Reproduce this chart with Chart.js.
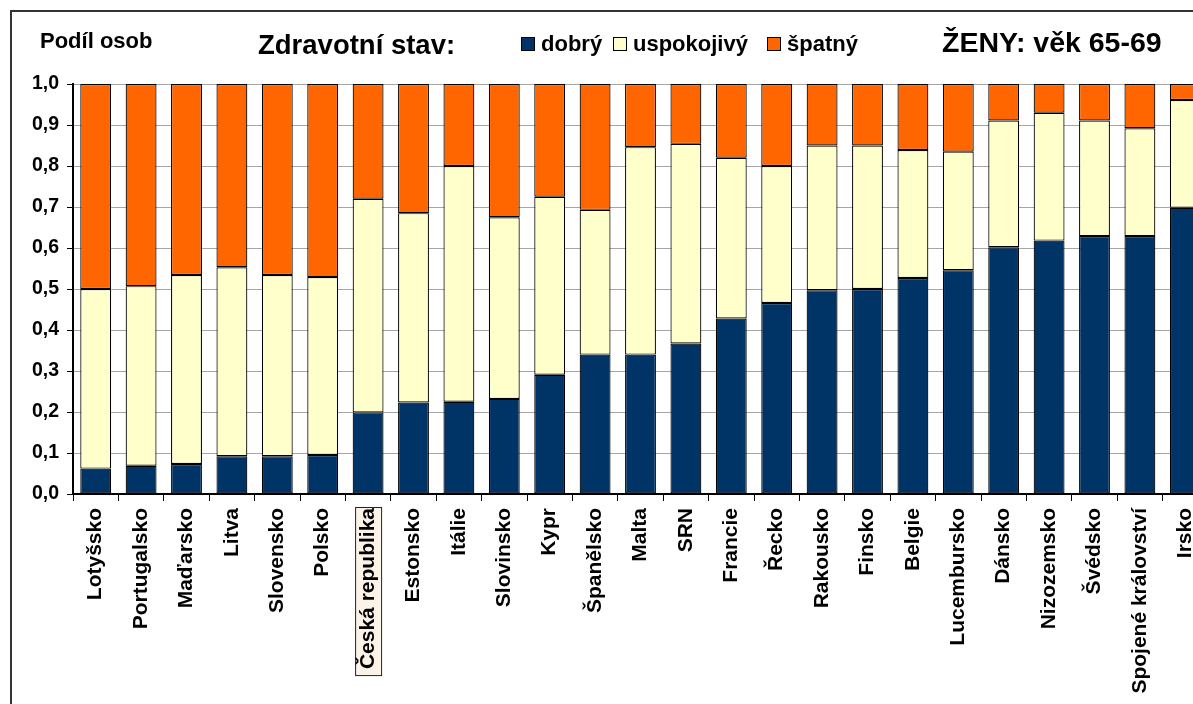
<!DOCTYPE html>
<html>
<head>
<meta charset="utf-8">
<script src="https://cdn.jsdelivr.net/npm/chart.js"></script>
<style>
  html, body { margin: 0; padding: 0; background: #fff; }
  body { width: 1193px; height: 704px; overflow: hidden; position: relative; font-family: "Liberation Sans", Arial, sans-serif; }
  #frame { position: absolute; left: 10px; top: 10px; width: 1300px; height: 800px; border-left: 2px solid #333; border-top: 2px solid #333; }
  #wrap { position: absolute; left: 0; top: 0; width: 1240px; height: 704px; }
  .txt { position: absolute; font-weight: bold; color: #000; white-space: nowrap; line-height: 1; }
  .sq { position: absolute; width: 12px; height: 12px; border: 1px solid #000; }
</style>
</head>
<body>
<div id="frame"></div>
<div id="wrap"><canvas id="myChart" width="1240" height="704"></canvas></div>
<div class="txt" style="left:40px; top:30px; font-size:22px;">Podíl osob</div>
<div class="txt" style="left:258px; top:31px; font-size:27.5px;">Zdravotní stav:</div>
<div id="legend"></div>
<div class="txt" style="left:942px; top:28px; font-size:28.5px;">ŽENY: věk 65-69</div>
<script>
const countries = ['Lotyšsko', 'Portugalsko', 'Maďarsko', 'Litva', 'Slovensko', 'Polsko', 'Česká republika',
    'Estonsko', 'Itálie', 'Slovinsko', 'Kypr', 'Španělsko', 'Malta', 'SRN', 'Francie', 'Řecko', 'Rakousko',
    'Finsko', 'Belgie', 'Lucembursko', 'Dánsko', 'Nizozemsko', 'Švédsko', 'Spojené království', 'Irsko'];

// podíl osob podle zdravotního stavu
const dobry = [0.062, 0.069, 0.073, 0.092, 0.092, 0.095, 0.199, 0.223, 0.225, 0.232, 0.291, 0.340, 0.340,
    0.367, 0.428, 0.466, 0.497, 0.500, 0.527, 0.546, 0.602, 0.618, 0.629, 0.629, 0.698];
const uspokojivy = [0.438, 0.438, 0.461, 0.461, 0.442, 0.434, 0.521, 0.462, 0.575, 0.443, 0.434, 0.353, 0.506,
    0.487, 0.392, 0.334, 0.353, 0.350, 0.312, 0.289, 0.309, 0.312, 0.282, 0.263, 0.263];
const spatny = [0.500, 0.493, 0.466, 0.447, 0.466, 0.471, 0.280, 0.315, 0.200, 0.325, 0.275, 0.307, 0.154,
    0.146, 0.180, 0.200, 0.150, 0.150, 0.161, 0.165, 0.089, 0.070, 0.089, 0.108, 0.039];

const seriesNames = ['dobrý', 'uspokojivý', 'špatný'];
const seriesColors = ['#003366', '#FFFFCC', '#FF6600'];
const highlighted = 'Česká republika';

const labelFont = 'bold 21px "Liberation Sans", Arial, sans-serif';

// legend in the header line
const legendPos = [521, 613, 767];
const legendEl = document.getElementById('legend');
seriesNames.forEach(function(name, i) {
    const sq = document.createElement('div');
    sq.className = 'sq';
    sq.style.left = legendPos[i] + 'px';
    sq.style.top = '37px';
    sq.style.background = seriesColors[i];
    legendEl.appendChild(sq);
    const t = document.createElement('div');
    t.className = 'txt';
    t.style.left = (legendPos[i] + 20) + 'px';
    t.style.top = '33px';
    t.style.fontSize = '22px';
    t.textContent = name;
    legendEl.appendChild(t);
});

// box behind the Czech label
const labelBox = {
    id: 'labelBox',
    beforeDraw(chart) {
        const { ctx, scales: { x } } = chart;
        const idx = countries.indexOf(highlighted);
        const px = x.getPixelForValue(idx);
        ctx.save();
        ctx.font = labelFont;
        const w = ctx.measureText(highlighted).width;
        const top = x.top + 13;
        ctx.fillStyle = '#FCF3E8';
        ctx.strokeStyle = '#222';
        ctx.lineWidth = 1;
        ctx.fillRect(px - 13, top, 26, w + 7);
        ctx.strokeRect(px - 13 + 0.5, top + 0.5, 26, w + 7);
        ctx.restore();
    }
};

const data = {
    labels: countries,
    datasets: [
        { label: seriesNames[0], data: dobry, backgroundColor: seriesColors[0] },
        { label: seriesNames[1], data: uspokojivy, backgroundColor: seriesColors[1] },
        { label: seriesNames[2], data: spatny, backgroundColor: seriesColors[2] }
    ].map(function(d) {
        d.borderColor = '#000';
        d.borderWidth = 1.2;
        d.borderSkipped = false;
        d.barPercentage = 0.68;
        d.categoryPercentage = 1;
        return d;
    })
};

const config = {
    type: 'bar',
    data,
    options: {
        responsive: false,
        animation: false,
        layout: { padding: { top: 84, right: 32, left: 0, bottom: 0 } },
        plugins: {
            legend: { display: false },
            tooltip: { enabled: false }
        },
        scales: {
            x: {
                stacked: true,
                grid: { display: true, drawOnChartArea: false, offset: true, color: '#000', tickLength: 7 },
                border: { color: '#000', width: 2 },
                ticks: {
                    autoSkip: false,
                    minRotation: 90,
                    maxRotation: 90,
                    padding: 7,
                    color: '#000',
                    font: { family: '"Liberation Sans", Arial, sans-serif', size: 21, weight: 'bold' }
                },
                afterFit(scale) { scale.height = 210; }
            },
            y: {
                stacked: true,
                min: 0,
                max: 1,
                ticks: {
                    stepSize: 0.1,
                    padding: 8,
                    color: '#000',
                    font: { family: '"Liberation Sans", Arial, sans-serif', size: 19.5, weight: 'bold' },
                    callback: function(value) {
                        return value.toFixed(1).replace('.', ',');
                    }
                },
                grid: { color: '#a6a6a6', tickColor: '#000', tickLength: 6, lineWidth: 1 },
                border: { color: '#000', width: 2 },
                afterFit(scale) { scale.width = 73; }
            }
        }
    },
    plugins: [labelBox]
};

const myChart = new Chart(document.getElementById('myChart'), config);
</script>
</body>
</html>
